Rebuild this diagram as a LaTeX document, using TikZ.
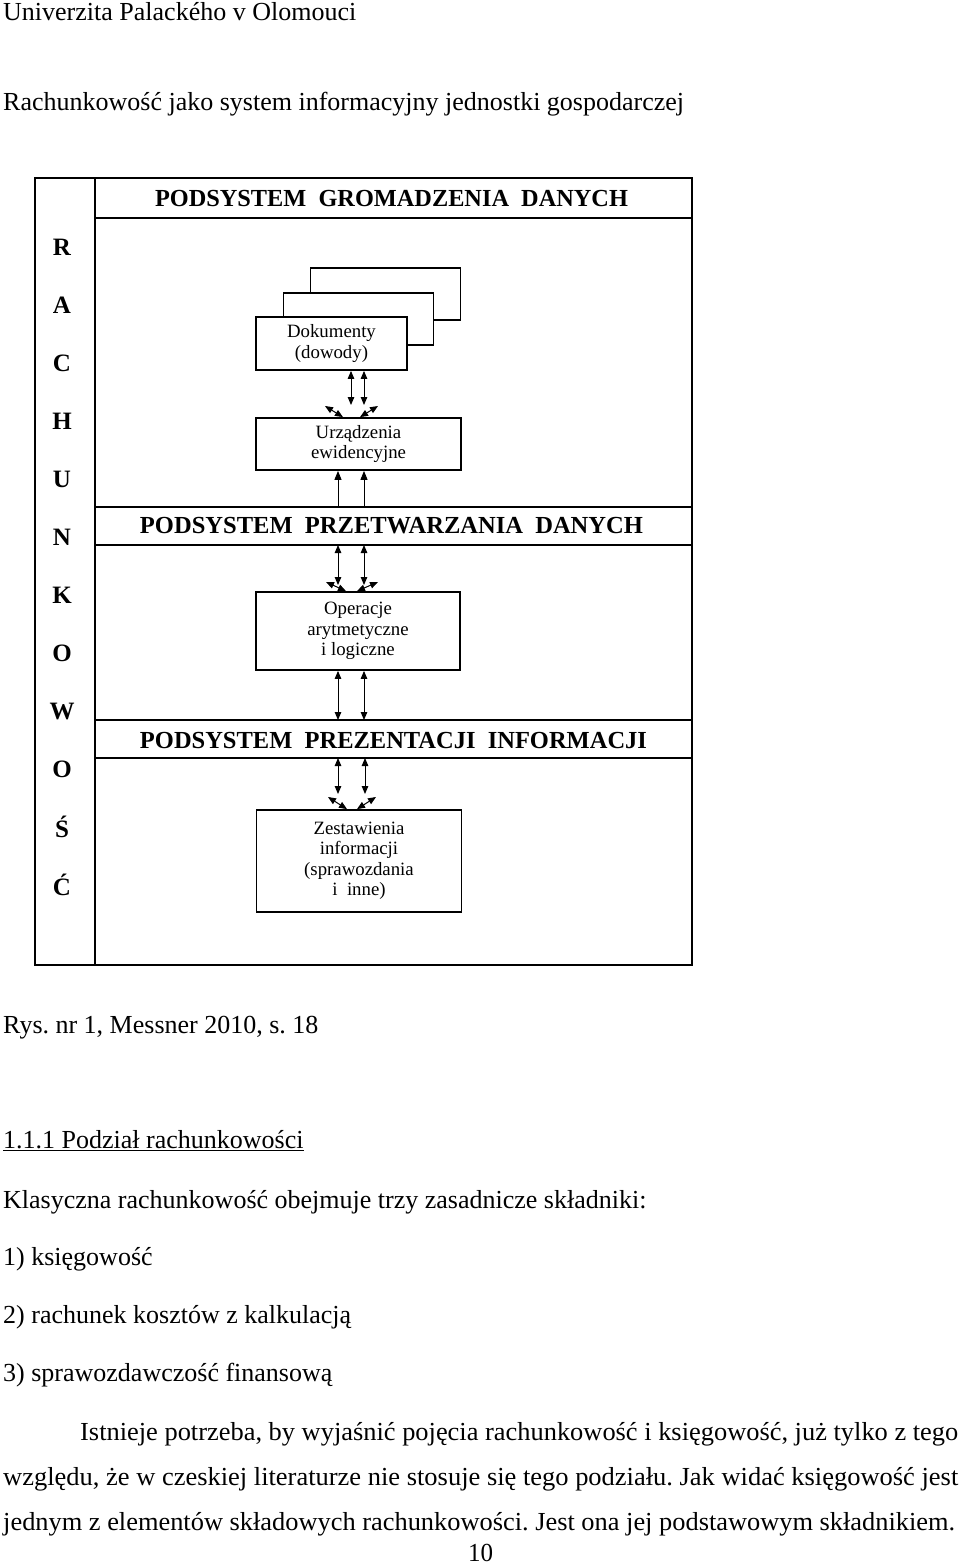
\documentclass[tikz,border=0pt]{standalone}
\usepackage{fontspec}
\setmainfont{Liberation Serif}
\usetikzlibrary{arrows.meta}
\frenchspacing
\tikzset{
 frameline/.style={line width=2.6pt, line cap=rect},
 docbox/.style={draw, line width=1.8pt, fill=white, inner sep=0pt, font=\fontsize{18.8}{20.5}\selectfont, align=center},
 dblarr/.style={line width=1pt, arrows={Triangle[length=8pt,width=6.5pt]-Triangle[length=8pt,width=6.5pt]}},
 startarr/.style={line width=1pt, arrows={Triangle[length=9pt,width=7pt]-}},
 pagetext/.style={anchor=base west, inner sep=0pt, font=\fontsize{26}{30}\selectfont},
 bandtitle/.style={inner sep=0pt, font=\fontsize{24.5}{28}\selectfont\bfseries},
 sideletter/.style={inner sep=0pt, font=\fontsize{25}{28}\selectfont\bfseries},
}
\begin{document}
\begin{tikzpicture}[x=1pt,y=-1pt]
\useasboundingbox (0,0) rectangle (960,1565);
\fill[white] (0,0) rectangle (960,1565);

% page texts
\node[pagetext] (univ) at (3,21) {Univerzita Palackého v Olomouci};
\node[pagetext] (head) at (3,111) {Rachunkowość jako system informacyjny jednostki gospodarczej};
\node[pagetext] (rys) at (3,1033) {Rys. nr 1, Messner 2010, s. 18};
\node[pagetext] (sec) at (3,1148) {\underline{1.1.1 Podział rachunkowości}};
\node[pagetext] (klas) at (3,1208) {Klasyczna rachunkowość obejmuje trzy zasadnicze składniki:};
\node[pagetext] (l1) at (3,1265) {1) księgowość};
\node[pagetext] (l2) at (3,1323) {2) rachunek kosztów z kalkulacją};
\node[pagetext] (l3) at (3,1381) {3) sprawozdawczość finansową};
\node[pagetext] (p1) at (80,1440) {\resizebox{878pt}{\height}{Istnieje potrzeba, by wyjaśnić pojęcia rachunkowość i księgowość, już tylko z tego}};
\node[pagetext] (p2) at (3,1485) {\resizebox{955pt}{\height}{względu, że w czeskiej literaturze nie stosuje się tego podziału. Jak widać księgowość jest}};
\node[pagetext] (p3) at (3,1530) {\resizebox{952pt}{\height}{jednym z elementów składowych rachunkowości. Jest ona jej podstawowym składnikiem.}};
\node[pagetext] (pg) at (468,1561) {\resizebox{25pt}{\height}{10}};

% frame
\draw[frameline] (35,178) rectangle (692,965);
\draw[frameline] (95,178) -- (95,965);
\draw[frameline] (95,218) -- (692,218);
\draw[frameline] (95,507) -- (692,507);
\draw[frameline] (95,545) -- (692,545);
\draw[frameline] (95,720) -- (692,720);
\draw[frameline] (95,758) -- (692,758);

% band titles
\node[bandtitle] (t1) at (391.5,199) {\resizebox{473pt}{\height}{PODSYSTEM\ \ GROMADZENIA\ \ DANYCH}};
\node[bandtitle] (t2) at (391.5,526) {\resizebox{503pt}{\height}{PODSYSTEM\ \ PRZETWARZANIA\ \ DANYCH}};
\node[bandtitle] (t3) at (393.5,740) {\resizebox{507pt}{\height}{PODSYSTEM\ \ PREZENTACJI\ \ INFORMACJI}};

% side letters
\foreach \L [count=\i from 0] in {R,A,C,H,U,N,K,O,W,O,Ś,Ć}{
  \node[sideletter] (s\i) at (62,247+58*\i) {\L};
}

% boxes
\node[docbox, minimum width=150pt, minimum height=52pt] (doc3) at (385.5,294) {};
\node[docbox, minimum width=150pt, minimum height=52pt] (doc2) at (358.5,319) {};
\node[docbox, minimum width=151pt, minimum height=53pt] (dok) at (331.5,343.5) {Dokumenty\\(dowody)};
\node[docbox, minimum width=205pt, minimum height=52pt] (urz) at (358.5,444) {Urządzenia\\ewidencyjne};
\node[docbox, minimum width=204pt, minimum height=78pt] (op) at (358,631) {Operacje\\arytmetyczne\\i logiczne};
\node[docbox, minimum width=205pt, minimum height=102pt] (zest) at (359,861) {Zestawienia\\informacji\\(sprawozdania\\i\ \ inne)};

% section 1 arrows
\coordinate (e1) at (351,405);
\coordinate (e2) at (364,405);
\draw[dblarr] (dok.south -| e1) -- (e1);
\draw[dblarr] (dok.south -| e2) -- (e2);
\coordinate (i1) at (343,418);
\coordinate (i2) at (360,418);
\coordinate (d1) at (325,406);
\coordinate (d2) at (378,406);
\draw[dblarr] (urz.north -| i1) -- (d1);
\draw[dblarr] (urz.north -| i2) -- (d2);
\coordinate (u1) at (338,506);
\coordinate (u2) at (364,506);
\draw[startarr] (urz.south -| u1) -- (u1);
\draw[startarr] (urz.south -| u2) -- (u2);

% section 2 arrows
\coordinate (v1) at (338,545);
\coordinate (v2) at (364,545);
\coordinate (e3) at (338,585);
\coordinate (e4) at (364,585);
\draw[dblarr] (v1) -- (e3);
\draw[dblarr] (v2) -- (e4);
\coordinate (i3) at (346,592);
\coordinate (i4) at (357,592);
\coordinate (d3) at (326,582);
\coordinate (d4) at (378,582);
\draw[dblarr] (op.north -| i3) -- (d3);
\draw[dblarr] (op.north -| i4) -- (d4);
\coordinate (w1) at (338,720);
\coordinate (w2) at (364,720);
\draw[dblarr] (op.south -| w1) -- (w1);
\draw[dblarr] (op.south -| w2) -- (w2);

% section 3 arrows
\coordinate (x1) at (338,758);
\coordinate (x2) at (365,758);
\coordinate (e5) at (338,794);
\coordinate (e6) at (365,794);
\draw[dblarr] (x1) -- (e5);
\draw[dblarr] (x2) -- (e6);
\coordinate (i5) at (347,810);
\coordinate (i6) at (357,810);
\coordinate (d5) at (328,797);
\coordinate (d6) at (376,797);
\draw[dblarr] (zest.north -| i5) -- (d5);
\draw[dblarr] (zest.north -| i6) -- (d6);
\end{tikzpicture}
\end{document}
